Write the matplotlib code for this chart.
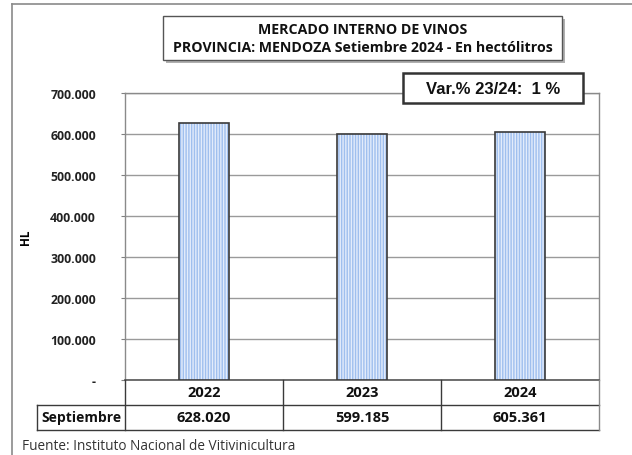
import matplotlib
matplotlib.use("Agg")
import matplotlib.pyplot as plt
from matplotlib.patches import Rectangle
from matplotlib.lines import Line2D

years = ["2022", "2023", "2024"]
values = [628020, 599185, 605361]
value_labels = ["628.020", "599.185", "605.361"]
row_label = "Septiembre"
yticks = [0, 100000, 200000, 300000, 400000, 500000, 600000, 700000]
ytick_labels = ["-", "100.000", "200.000", "300.000", "400.000", "500.000", "600.000", "700.000"]
title_lines = ["MERCADO INTERNO DE VINOS", "PROVINCIA: MENDOZA Setiembre 2024 - En hectólitros"]
var_text = "Var.% 23/24:  1 %"
source_text = "Fuente: Instituto Nacional de Vitivinicultura"

W, H = 632, 456
fig = plt.figure(figsize=(W / 100, H / 100), dpi=100)
FONT = "Open Sans"

def fx(px):
    return px / W

def fy(py):
    return 1 - py / H

L, R, T, B = 125, 599, 94, 381
ax = fig.add_axes([fx(L), fy(B), fx(R) - fx(L), fy(T) - fy(B)])

x = list(range(len(years)))
plt.rcParams['hatch.linewidth'] = 1.0
ax.bar(x, values, width=0.32, color="#9fbfee", edgecolor="#e3ecfb", hatch="||||||", linewidth=0, zorder=3)
ax.bar(x, values, width=0.32, fill=False, edgecolor="#3a3a3a", linewidth=1.2, zorder=4)

ax.set_xlim(-0.5, len(years) - 0.5)
ax.set_ylim(0, 700000)
ax.set_yticks(yticks)
ax.set_yticklabels(ytick_labels, fontfamily=FONT, fontweight="bold", fontsize=8.8, color="#222222")
ax.tick_params(axis="y", length=3, width=0.8, color="#808080", pad=18)
ax.set_xticks([])
ax.grid(axis="y", color="#9a9a9a", linewidth=1.0, zorder=0)
for s in ["left", "top", "right"]:
    ax.spines[s].set_color("#8a8a8a")
    ax.spines[s].set_linewidth(1.0)
ax.spines["bottom"].set_color("#555555")
ax.spines["bottom"].set_linewidth(1.2)
ax.set_ylabel("HL", fontfamily=FONT, fontweight="bold", fontsize=8.5)
ax.yaxis.set_label_coords((32 - L) / (R - L), 0.5)

# Table below axes
row1_top, row1_bot, row2_bot = 381, 406, 431
tab_left = 37
col_edges = [L, 283, 441, R]
lc = "#3a3a3a"
def hline(y, x0, x1, lw=1.0, c=lc):
    fig.add_artist(Line2D([fx(x0), fx(x1)], [fy(y), fy(y)], color=c, linewidth=lw))
def vline(xp, y0, y1, lw=1.0, c=lc):
    fig.add_artist(Line2D([fx(xp), fx(xp)], [fy(y0), fy(y1)], color=c, linewidth=lw))

hline(row1_bot, tab_left, R)
hline(row2_bot, tab_left, R)
vline(tab_left, row1_bot, row2_bot)
for xe in col_edges[:-1]:
    vline(xe, row1_top, row2_bot)
vline(R, row1_top, row2_bot, c="#8a8a8a")

TF = 10.5
for i, (yr, v) in enumerate(zip(years, value_labels)):
    cx = (col_edges[i] + col_edges[i + 1]) / 2
    fig.text(fx(cx), fy((row1_top + row1_bot) / 2), yr, ha="center", va="center",
             fontfamily=FONT, fontweight="bold", fontsize=TF, color="#111111")
    fig.text(fx(cx), fy((row1_bot + row2_bot) / 2), v, ha="center", va="center",
             fontfamily=FONT, fontweight="bold", fontsize=TF, color="#111111")
fig.text(fx((tab_left + L) / 2), fy((row1_bot + row2_bot) / 2), row_label, ha="center", va="center",
         fontfamily=FONT, fontweight="bold", fontsize=10, color="#111111")

# Outer frame
fig.add_artist(Line2D([fx(12), fx(12)], [fy(5), 0], color="#8a8a8a", linewidth=1.2))
fig.add_artist(Line2D([fx(12), 1], [fy(5), fy(5)], color="#8a8a8a", linewidth=1.2))

# Title box with shadow
tx0, ty0, tx1, ty1 = 163, 17, 562, 61
fig.add_artist(Rectangle((fx(tx0 + 3), fy(ty1 + 3)), fx(tx1 - tx0), fy(ty0) - fy(ty1),
                         facecolor="#b0b0b0", edgecolor="none", zorder=5))
fig.add_artist(Rectangle((fx(tx0), fy(ty1)), fx(tx1 - tx0), fy(ty0) - fy(ty1),
                         facecolor="white", edgecolor="#555555", linewidth=1.0, zorder=6))
fig.text(fx((tx0 + tx1) / 2), fy(30), title_lines[0], ha="center", va="center",
         fontfamily=FONT, fontweight="bold", fontsize=10.2, color="#111111", zorder=7)
fig.text(fx((tx0 + tx1) / 2), fy(48), title_lines[1], ha="center", va="center",
         fontfamily=FONT, fontweight="bold", fontsize=10.2, color="#111111", zorder=7)

# Var box
vx0, vy0, vx1, vy1 = 403, 74, 583, 104
fig.add_artist(Rectangle((fx(vx0), fy(vy1)), fx(vx1 - vx0), fy(vy0) - fy(vy1),
                         facecolor="white", edgecolor="#333333", linewidth=1.8, zorder=6))
fig.text(fx((vx0 + vx1) / 2), fy((vy0 + vy1) / 2), var_text, ha="center", va="center",
         fontfamily="Liberation Sans", fontweight="bold", fontsize=12, color="#111111", zorder=7)

fig.text(fx(22), fy(447), source_text, ha="left", va="center", fontfamily=FONT,
         fontsize=9.8, color="#333333")

fig.savefig("out.png", dpi=100)
